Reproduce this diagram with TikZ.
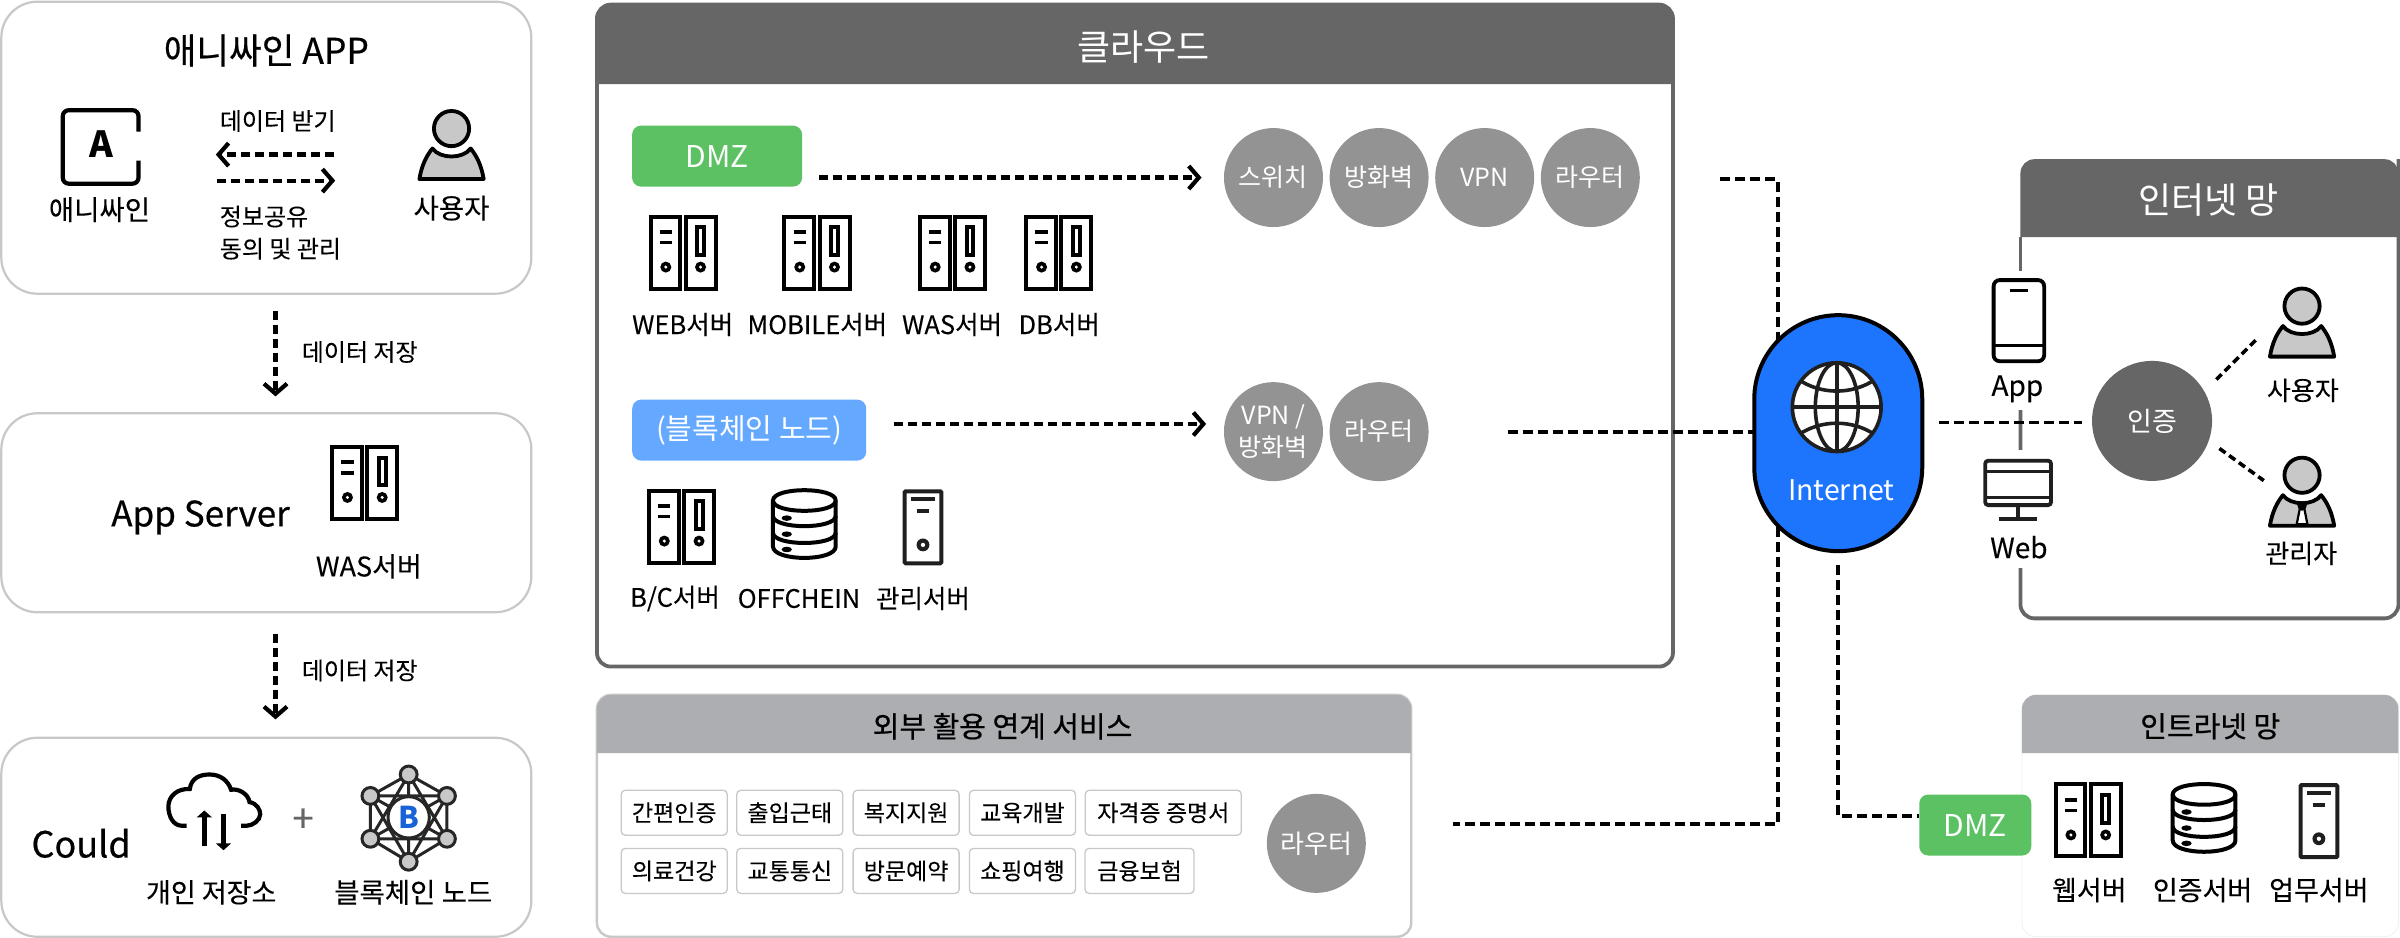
\documentclass[tikz,border=0pt]{standalone}
\usepackage{fontspec}
\usepackage{xfp}
\setmainfont{Noto Sans CJK KR}
\newfontfamily\medfont[FakeBold=0.55]{Noto Sans CJK KR}
\newfontfamily\regfont[FakeBold=0.14]{Noto Sans CJK KR}
\usetikzlibrary{arrows.meta,calc}
\newcommand{\fsz}[1]{\fontsize{#1}{\fpeval{#1*1.18}}\selectfont}
\definecolor{hdrdark}{HTML}{666666}
\definecolor{hdrlite}{HTML}{ADAEB2}
\definecolor{edgelite}{HTML}{C8C8C8}
\definecolor{dmzgreen}{HTML}{5BC163}
\definecolor{nodeblue}{HTML}{64A9FF}
\definecolor{netblue}{HTML}{1C75FC}
\definecolor{circgray}{HTML}{939393}
\definecolor{iconfill}{HTML}{C8C8C8}
\tikzset{
  panel/.style={draw=edgelite,line width=2.2pt,fill=white,rounded corners=36pt,inner sep=0},
  lab/.style={inner sep=0,align=center,font=\regfont\fsz{#1}},
  lab/.default=24,
  wlab/.style={inner sep=0,align=center,text=white,font=\fsz{#1}},
  mlab/.style={inner sep=0,align=center,font=\medfont\fsz{#1}},
  badge/.style={rounded corners=9pt,minimum height=61pt,inner sep=0,text=white,font=\fsz{#1}},
  badge/.default=30,
  gcirc/.style={circle,fill=circgray,minimum size=99pt,inner sep=0,align=center,text=white,font=\fsz{25}},
  tagbox/.style={draw=edgelite,line width=1.3pt,rounded corners=4pt,minimum height=45pt,inner sep=0,font=\regfont\fsz{23}},
  dasharrow/.style={line width=4.2pt,dash pattern=on 9pt off 5pt,-{Straight Barb[length=10pt,width=23pt]}},
  conn/.style={line width=3.8pt,dash pattern=on 10pt off 5pt},
  icon/.style={line width=4pt,draw=black},
  serverpic/.pic={
    \draw[icon,fill=white] (0,0) rectangle (19.5,47);
    \draw[icon,fill=white] (23,0) rectangle (42.5,47);
    \draw[line width=3.5pt] (6,10) -- (14,10) (6,17) -- (14,17);
    \draw[icon] (30.5,7) rectangle (35,25);
    \fill (10,33) circle (3.6); \fill (32.7,33) circle (3.6);
    \fill[white] (10,33) circle (1.1); \fill[white] (32.7,33) circle (1.1);
  },
  dbpic/.pic={
    \draw[icon,fill=white] (0,7) .. controls (0,-2) and (41,-2) .. (41,7) -- (41,37) .. controls (41,47) and (0,47) .. (0,37) -- cycle;
    \draw[icon] (0,7) .. controls (0,16) and (41,16) .. (41,7);
    \draw[icon] (0,17) .. controls (0,26) and (41,26) .. (41,17);
    \draw[icon] (0,28) .. controls (0,37) and (41,37) .. (41,28);
    \fill (9,18.5) ellipse (3.4 and 1.8);
    \fill (9,29) ellipse (3.4 and 1.8);
    \fill (9,39) ellipse (3.4 and 1.8);
  },
  towerpic/.pic={
    \draw[icon,draw=black!88,fill=white,rounded corners=1pt] (0,0) rectangle (24,47);
    \draw[line width=4pt,black!88] (4,5) -- (20,5) (8,13) -- (16,13);
    \fill[black!88] (12,35) circle (4.2); \fill[white] (12,35) circle (1.4);
  },
  userpic/.pic={
    \draw[line width=3.8pt,fill=iconfill] (21.5,12) ellipse (11.5 and 11.5);
    \draw[line width=3.8pt,fill=iconfill,line join=round] (0.5,45) .. controls (2,36) and (5,30) .. (9,25) .. controls (14,32) and (29,32) .. (34,25) .. controls (38,30) and (41,36) .. (42.5,45) -- cycle;
  },
  adminpic/.pic={
    \draw[line width=3.8pt,fill=iconfill] (21.5,12) ellipse (11.5 and 11.5);
    \draw[line width=3.8pt,fill=iconfill,line join=round] (0.5,45) .. controls (2,36) and (5,30) .. (9,25) .. controls (14,32) and (29,32) .. (34,25) .. controls (38,30) and (41,36) .. (42.5,45) -- cycle;
    \draw[line width=2.2pt,fill=white] (19,31) -- (24,31) -- (23,34) -- (25,44) -- (18,44) -- (20,34) -- cycle;
    \fill (21.5,33) circle (2.2);
  },
}
\begin{document}
\begin{tikzpicture}[x=1.530612pt,y=-1.530612pt]
\useasboundingbox[fill=white] (0,0) rectangle (1568,612.8);

% ---------- left column ----------
\node[panel,minimum width=530pt,minimum height=292pt] (panelApp) at (174,96.5) {};
\node[panel,minimum width=530pt,minimum height=199pt] (panelSrv) at (174,335) {};
\node[panel,minimum width=530pt,minimum height=199pt] (panelCld) at (174,547) {};

\node[mlab=35.5] (tApp) at (174,33) {애니싸인 APP};
\draw[line width=4.2pt,rounded corners=6pt] (90.5,86) -- (90.5,72) -- (41,72) -- (41,120) -- (90.5,120) -- (90.5,105);
\node[inner sep=0,font=\fsz{36}\bfseries] (tA) at (66,94) {A};
\node[lab=27.5] (tAny) at (65,137) {애니싸인};
\node[lab=24,anchor=west] (tRecv) at (143.5,79) {데이터 받기};
\coordinate (aR) at (218,101); \coordinate (aL) at (141,101);
\coordinate (bL) at (142,118); \coordinate (bR) at (219,118);
\draw[dasharrow] (aR) -- (aL);
\draw[dasharrow] (bL) -- (bR);
\node[lab=24,anchor=west] (tShare) at (143.5,141.5) {정보공유};
\node[lab=24,anchor=west] (tConsent) at (143.5,162.5) {동의 및 관리};
\pic at (273.5,72) {userpic};
\node[lab=27.5] (tUser) at (295,136) {사용자};

\coordinate (c1a) at (180,203); \coordinate (c1b) at (180,259);
\draw[dasharrow] (c1a) -- (c1b);
\node[lab=24] (tStore1) at (235,230) {데이터 저장};

\node[mlab=35] (tSrv) at (131,338) {App Server};
\pic at (217,292) {serverpic};
\node[lab=27] (tWas0) at (241,370) {WAS서버};

\coordinate (c2a) at (180,414); \coordinate (c2b) at (180,470);
\draw[dasharrow] (c2a) -- (c2b);
\node[lab=24] (tStore2) at (235,438) {데이터 저장};

\node[mlab=36] (tCould) at (53,551) {Could};
% cloud icon
\draw[line width=4.2pt,line cap=butt] (122,539.5) -- (119,539.5) .. controls (113,539.5) and (110,533) .. (110,527) .. controls (110,520) and (116,515) .. (124,515.5) .. controls (125,508) and (131,506) .. (137,506) .. controls (144,506) and (149,510) .. (151,516) .. controls (155,515) and (162,518) .. (163,524) .. controls (168,525) and (170,529) .. (170,532) .. controls (170,536) and (165,539.5) .. (161,539.5) -- (157.5,539.5);
\draw[line width=5pt,-{Triangle[length=7pt,width=15pt]}] (133.5,553) -- (133.5,529.5);
\draw[line width=5pt,-{Triangle[length=7pt,width=15pt]}] (146,532) -- (146,555.5);
\node[lab=27] (tPriv) at (138,583) {개인 저장소};
\node[inner sep=0,text=black!60,font=\medfont\fsz{38}] (tPlus) at (198,536) {+};
% blockchain icon
\begin{scope}[line width=3pt,draw=black!85]
\coordinate (h1) at (267,506); \coordinate (h2) at (292,520); \coordinate (h3) at (292,548);
\coordinate (h4) at (267,563); \coordinate (h5) at (242,548); \coordinate (h6) at (242,520);
\draw (h1)--(h2)--(h3)--(h4)--(h5)--(h6)--cycle;
\draw (h1)--(h3) (h1)--(h5) (h1)--(h4) (h2)--(h4) (h2)--(h5) (h3)--(h6) (h4)--(h6) (h2)--(h6) (h3)--(h5);
\draw[fill=white] (267,534) circle (13.5);
\foreach \p in {h1,h2,h3,h4,h5,h6} \draw[fill=iconfill] (\p) circle (5.5);
\end{scope}
\node[inner sep=0,text=netblue!85!black,font=\fsz{30}\bfseries] (tB) at (267,534) {B};
\node[lab=27.5] (tChain) at (270,583) {블록체인 노드};

% ---------- connectors behind the panels ----------
\coordinate (w1) at (1124,117); \coordinate (w2) at (1161.5,117); \coordinate (w3) at (1161.5,538.5); \coordinate (w4) at (949,538.5);
\coordinate (w7) at (1201,369); \coordinate (w8) at (1201,533); \coordinate (w9) at (1254,533);
\coordinate (w10) at (1267,276); \coordinate (w11) at (1360,276);
\draw[conn] (w1) -- (w2) -- (w3) -- (w4);
\draw[conn] (w7) -- (w8) -- (w9);

% ---------- cloud panel ----------
\draw[draw=hdrdark,line width=3.8pt,fill=white,rounded corners=14pt] (390,3) rectangle (1093,435.5);
\fill[hdrdark] (390,55) [rounded corners=14pt] -- (390,3) -- (1093,3) [sharp corners] -- (1093,55) -- cycle;
\node[wlab=36] (tCloud) at (747,30.5) {클라우드};
\node[badge,fill=dmzgreen,minimum width=170pt] (dmzA) at (468.5,102) {DMZ};
\coordinate (d1) at (535,116); \coordinate (d1e) at (785,116);
\node[gcirc] (c1) at (832,116) {스위치};
\node[gcirc] (c2) at (901,116) {방화벽};
\node[gcirc] (c3) at (970,116) {VPN};
\node[gcirc] (c4) at (1039,116) {라우터};
\draw[dasharrow] (d1) -- (d1e);
\pic at (425,141.5) {serverpic};
\pic at (512.5,141.5) {serverpic};
\pic at (601,141.5) {serverpic};
\pic at (670.5,141.5) {serverpic};
\node[lab=25.5] (lW) at (446,212) {WEB서버};
\node[lab=25.5] (lM) at (534,212) {MOBILE서버};
\node[lab=25.5] (lA) at (622,212) {WAS서버};
\node[lab=25.5] (lD) at (692,212) {DB서버};

\node[badge=29,fill=nodeblue,minimum width=234pt] (chainB) at (489.5,281) {(블록체인 노드)};
\coordinate (d2) at (584,277); \coordinate (d2e) at (788,277);
\node[gcirc] (c5) at (832,282) {VPN /\\[3pt]방화벽};
\node[gcirc] (c6) at (901,282) {라우터};
\draw[dasharrow] (d2) -- (d2e);
\coordinate (w5) at (985,282); \coordinate (w6) at (1150,282);
\draw[conn] (w5) -- (w6);
\pic at (424,320.5) {serverpic};
\pic at (505,320) {dbpic};
\pic at (591,321) {towerpic};
\node[lab=25.5] (lB) at (441,391) {B/C서버};
\node[lab=25.5] (lO) at (522,391) {OFFCHEIN};
\node[lab=25.5] (lK) at (603,391) {관리서버};

% ---------- external services ----------
\draw[draw=edgelite,line width=2.4pt,fill=white,rounded corners=14pt] (390,454) rectangle (922,612);
\fill[hdrlite] (390,492) [rounded corners=14pt] -- (390,454) -- (922,454) [sharp corners] -- (922,492) -- cycle;
\node[mlab=29] (tExt) at (655,474.5) {외부 활용 연계 서비스};
\node[tagbox,minimum width=106pt] (g1) at (440.5,531) {간편인증};
\node[tagbox,minimum width=106pt] (g2) at (516,531) {출입근태};
\node[tagbox,minimum width=106pt] (g3) at (592,531) {복지지원};
\node[tagbox,minimum width=106pt] (g4) at (668,531) {교육개발};
\node[tagbox,minimum width=156pt] (g5) at (760,531) {자격증 증명서};
\node[tagbox,minimum width=106pt] (g6) at (440.5,569) {의료건강};
\node[tagbox,minimum width=106pt] (g7) at (516,569) {교통통신};
\node[tagbox,minimum width=106pt] (g8) at (592,569) {방문예약};
\node[tagbox,minimum width=106pt] (g9) at (668,569) {쇼핑여행};
\node[tagbox,minimum width=109pt] (g10) at (744.5,569) {금융보험};
\node[gcirc,font=\fsz{26}] (rt) at (860,551) {라우터};

% ---------- intranet ----------
\draw[draw=black!6,line width=.8pt,fill=white,rounded corners=14pt] (1321,454) rectangle (1567,612);
\fill[hdrlite] (1321,492) [rounded corners=14pt] -- (1321,454) -- (1567,454) [sharp corners] -- (1567,492) -- cycle;
\node[mlab=29] (tIntra) at (1444,474.5) {인트라넷 망};
\node[badge,fill=dmzgreen,minimum width=112pt] (dmzB) at (1290.5,539) {DMZ};
\pic at (1343,512.5) {serverpic};
\pic at (1419.5,512) {dbpic};
\pic at (1503,513) {towerpic};
\node[lab=27] (lWeb) at (1365,581.5) {웹서버};
\node[lab=27] (lAuth) at (1439,581.5) {인증서버};
\node[lab=27] (lBiz) at (1515,581.5) {업무서버};

% ---------- internet panel ----------
\draw[draw=hdrdark,line width=3.8pt,rounded corners=14pt] (1320,178) -- (1320,404) -- (1567,404) -- (1567,104);
\fill[hdrdark] (1320,155) [rounded corners=14pt] -- (1320,104) -- (1567,104) [sharp corners] -- (1567,155) -- cycle;
\draw[draw=hdrdark,line width=3.8pt] (1320,155) -- (1320,177);
\fill[white] (1310,178) rectangle (1330,268);
\fill[white] (1310,294) rectangle (1330,371);
\node[wlab=36] (tNet) at (1443,131) {인터넷 망};
\draw[conn] (w10) -- (w11);
% phone
\draw[line width=3.8pt,rounded corners=6pt,fill=white] (1302.5,183) rectangle (1335.5,236);
\draw[line width=3pt] (1302.5,226) -- (1335.5,226) (1313,190) -- (1325,190);
\node[lab=28] (tAppL) at (1318,254) {App};
% monitor
\draw[line width=3.8pt,rounded corners=3pt,draw=black!88,fill=white] (1297,301) rectangle (1340,330);
\draw[line width=3.3pt,black!88] (1297,308) -- (1340,308) (1297,325) -- (1340,325) (1318.5,331) -- (1318.5,338);
\draw[line width=3.3pt,black!88] (1306,339) -- (1331,339);
\node[lab=28] (tWebL) at (1319,357.5) {Web};
\node[circle,fill=hdrdark,minimum size=120pt,inner sep=0,text=white,font=\fsz{27}] (auth) at (1406,275) {인증};
\coordinate (u1) at (1448,248); \coordinate (u2) at (1474,222);
\coordinate (m1) at (1450,293); \coordinate (m2) at (1479,314);
\draw[conn,line width=3.6pt,dash pattern=on 7.5pt off 4.5pt] (u1) -- (u2);
\draw[conn,line width=3.6pt,dash pattern=on 7.5pt off 4.5pt] (m1) -- (m2);
\pic at (1482.5,188) {userpic};
\node[lab=26] (tUser2) at (1504.5,255) {사용자};
\pic at (1482.5,298.5) {adminpic};
\node[lab=26] (tAdmin) at (1503.5,361.5) {관리자};

% ---------- internet node ----------
\node[draw=black,line width=4pt,fill=netblue,minimum width=168pt,minimum height=236pt,rounded corners=84pt,inner sep=0] (net) at (1201,283) {};
\begin{scope}
\draw[line width=3.6pt,draw=black!88,fill=white] (1200,266) circle (29);
\clip (1200,266) circle (29);
\draw[line width=3.6pt,black!88] (1200,237) -- (1200,295) (1171,266) -- (1229,266);
\draw[line width=3.6pt,black!88] (1200,266) ellipse (14 and 29);
\draw[line width=3.6pt,black!88] (1175,248) .. controls (1190,258) and (1210,258) .. (1225,248);
\draw[line width=3.6pt,black!88] (1175,284) .. controls (1190,274) and (1210,274) .. (1225,284);
\end{scope}
\node[wlab=28.5] (tInternet) at (1203,320.5) {Internet};
\end{tikzpicture}
\end{document}
